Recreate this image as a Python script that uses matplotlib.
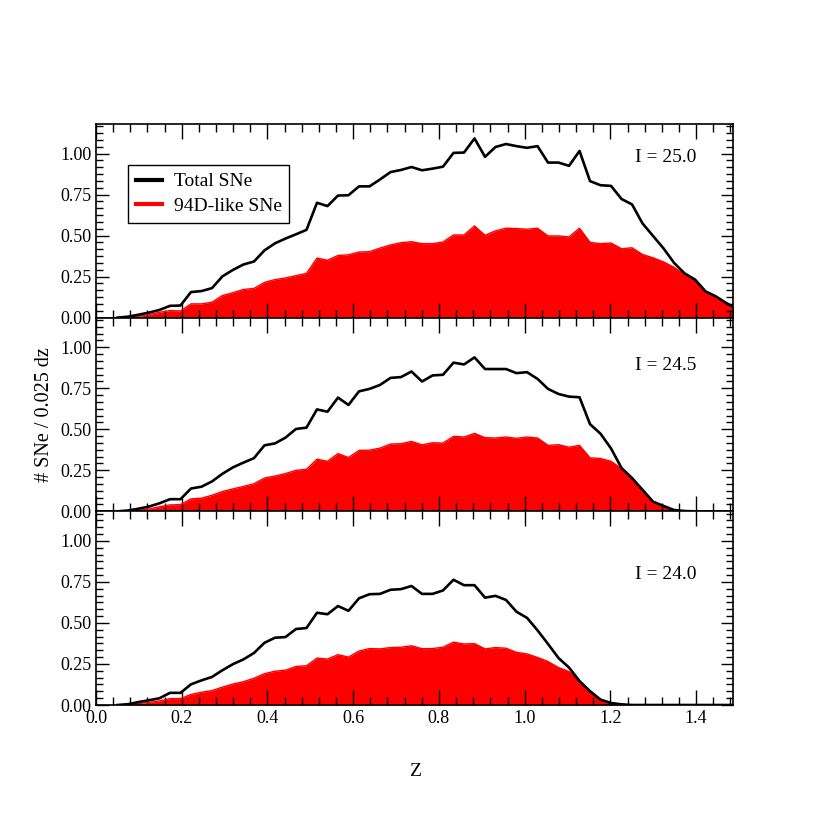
import numpy as np
import matplotlib
matplotlib.use('Agg')
import matplotlib.pyplot as plt
from matplotlib.lines import Line2D
from matplotlib.ticker import MultipleLocator, AutoMinorLocator

plt.rcParams['font.family'] = ['Liberation Serif', 'DejaVu Serif']

# redshift grid of the curves (0.05 ... 1.4955)
z = 0.05 + 0.0245 * np.arange(60)

# I = 25.0
total_250 = [0.0, 0.006, 0.018, 0.031, 0.047, 0.072, 0.074, 0.156, 0.162, 0.180,
             0.252, 0.291, 0.324, 0.342, 0.410, 0.453, 0.482, 0.508, 0.535, 0.700,
             0.680, 0.744, 0.746, 0.800, 0.800, 0.842, 0.887, 0.900, 0.918, 0.898,
             0.908, 0.920, 1.004, 1.006, 1.092, 0.980, 1.040, 1.058, 1.045, 1.035,
             1.045, 0.945, 0.945, 0.925, 1.016, 0.832, 0.807, 0.803, 0.723, 0.690,
             0.574, 0.498, 0.422, 0.334, 0.270, 0.232, 0.160, 0.129, 0.088, 0.055]
like94d_250 = [0.0, 0.003, 0.008, 0.018, 0.033, 0.043, 0.041, 0.084, 0.084, 0.094,
               0.135, 0.152, 0.172, 0.178, 0.215, 0.232, 0.242, 0.256, 0.270, 0.363,
               0.350, 0.379, 0.383, 0.400, 0.402, 0.424, 0.443, 0.457, 0.463, 0.451,
               0.451, 0.461, 0.504, 0.504, 0.559, 0.502, 0.529, 0.545, 0.543, 0.539,
               0.545, 0.498, 0.498, 0.492, 0.545, 0.459, 0.451, 0.455, 0.420, 0.426,
               0.385, 0.365, 0.340, 0.307, 0.262, 0.232, 0.160, 0.129, 0.088, 0.055]

# I = 24.5
total_245 = [0.0, 0.005, 0.016, 0.029, 0.049, 0.074, 0.074, 0.139, 0.150, 0.182,
             0.229, 0.268, 0.297, 0.324, 0.402, 0.414, 0.449, 0.502, 0.510, 0.621,
             0.607, 0.693, 0.648, 0.731, 0.746, 0.770, 0.813, 0.818, 0.852, 0.791,
             0.828, 0.832, 0.906, 0.895, 0.938, 0.867, 0.867, 0.867, 0.842, 0.848,
             0.807, 0.746, 0.715, 0.699, 0.695, 0.531, 0.473, 0.383, 0.264, 0.203,
             0.131, 0.059, 0.033, 0.008, 0.002, 0.0, 0.0, 0.0, 0.0, 0.0]
like94d_245 = [0.0, 0.003, 0.006, 0.014, 0.028, 0.039, 0.041, 0.076, 0.080, 0.098,
               0.121, 0.137, 0.152, 0.168, 0.203, 0.215, 0.230, 0.250, 0.256, 0.318,
               0.305, 0.352, 0.328, 0.371, 0.373, 0.385, 0.410, 0.412, 0.426, 0.405,
               0.418, 0.416, 0.457, 0.453, 0.475, 0.449, 0.447, 0.453, 0.445, 0.453,
               0.447, 0.402, 0.406, 0.391, 0.402, 0.326, 0.322, 0.305, 0.260, 0.203,
               0.131, 0.059, 0.033, 0.008, 0.002, 0.0, 0.0, 0.0, 0.0, 0.0]

# I = 24.0
total_240 = [0.0, 0.005, 0.018, 0.029, 0.041, 0.074, 0.074, 0.126, 0.150, 0.171,
             0.212, 0.249, 0.278, 0.317, 0.379, 0.410, 0.414, 0.463, 0.469, 0.562,
             0.553, 0.603, 0.574, 0.650, 0.675, 0.677, 0.702, 0.706, 0.725, 0.677,
             0.677, 0.698, 0.763, 0.730, 0.730, 0.654, 0.665, 0.640, 0.568, 0.531,
             0.455, 0.372, 0.286, 0.228, 0.146, 0.084, 0.033, 0.012, 0.004, 0.0,
             0.0, 0.0, 0.0, 0.0, 0.0, 0.0, 0.0, 0.0, 0.0, 0.0]
like94d_240 = [0.0, 0.003, 0.008, 0.016, 0.025, 0.039, 0.039, 0.064, 0.078, 0.088,
               0.109, 0.128, 0.142, 0.163, 0.191, 0.206, 0.212, 0.235, 0.239, 0.286,
               0.280, 0.307, 0.292, 0.329, 0.344, 0.342, 0.350, 0.352, 0.361, 0.343,
               0.344, 0.352, 0.383, 0.372, 0.374, 0.342, 0.350, 0.346, 0.321, 0.311,
               0.290, 0.265, 0.228, 0.204, 0.146, 0.084, 0.033, 0.012, 0.004, 0.0,
               0.0, 0.0, 0.0, 0.0, 0.0, 0.0, 0.0, 0.0, 0.0, 0.0]

panel_labels = ['I = 25.0', 'I = 24.5', 'I = 24.0']
label_y = [0.829, 0.753, 0.675]
totals = [total_250, total_245, total_240]
likes = [like94d_250, like94d_245, like94d_240]

fig, axes = plt.subplots(3, 1, figsize=(8.3, 8.3), dpi=100, sharex=True,
                         gridspec_kw={'hspace': 0})
fig.subplots_adjust(left=0.1157, right=0.8831, bottom=0.1506, top=0.8506)

for ax, tot, lk, lab, ly in zip(axes, totals, likes, panel_labels, label_y):
    ax.fill_between(z, 0, lk, color='red', lw=0)
    ax.plot(z, lk, color='red', lw=1.0)
    ax.plot(z, tot, color='black', lw=1.9)
    ax.set_xlim(0.0, 1.486)
    ax.set_ylim(0.0, 1.18)
    ax.xaxis.set_major_locator(MultipleLocator(0.2))
    ax.xaxis.set_minor_locator(AutoMinorLocator(5))
    ax.yaxis.set_major_locator(MultipleLocator(0.25))
    ax.yaxis.set_minor_locator(AutoMinorLocator(6))
    ax.yaxis.set_major_formatter(plt.FormatStrFormatter('%.2f'))
    ax.xaxis.set_major_formatter(plt.FormatStrFormatter('%.1f'))
    ax.tick_params(which='both', direction='in', top=True, right=True,
                   labelsize=13, width=1.0)
    ax.tick_params(axis='x', which='major', length=11)
    ax.tick_params(axis='x', which='minor', length=5.5)
    ax.tick_params(axis='y', which='major', length=9)
    ax.tick_params(axis='y', which='minor', length=5)
    for s in ax.spines.values():
        s.set_linewidth(1.2)
    ax.text(0.943, ly, lab, transform=ax.transAxes, ha='right', va='center',
            fontsize=14)

# legend in the top panel
handles = [Line2D([], [], color='black', lw=3),
           Line2D([], [], color='red', lw=3)]
leg = axes[0].legend(handles, ['Total SNe', '94D-like SNe'], loc='upper left',
                     bbox_to_anchor=(0.05, 0.788), borderaxespad=0,
                     fancybox=False, edgecolor='black', framealpha=1,
                     fontsize=14, handlelength=1.35, handletextpad=0.6,
                     borderpad=0.4, labelspacing=0.35)
leg.get_frame().set_linewidth(1.0)

fig.text(0.5, 0.0699, 'Z', ha='center', va='center', fontsize=14)
fig.text(0.054, 0.5006, '# SNe / 0.025 dz', ha='center', va='center',
         rotation=90, fontsize=14.5)

fig.savefig('out.png', dpi=100)
